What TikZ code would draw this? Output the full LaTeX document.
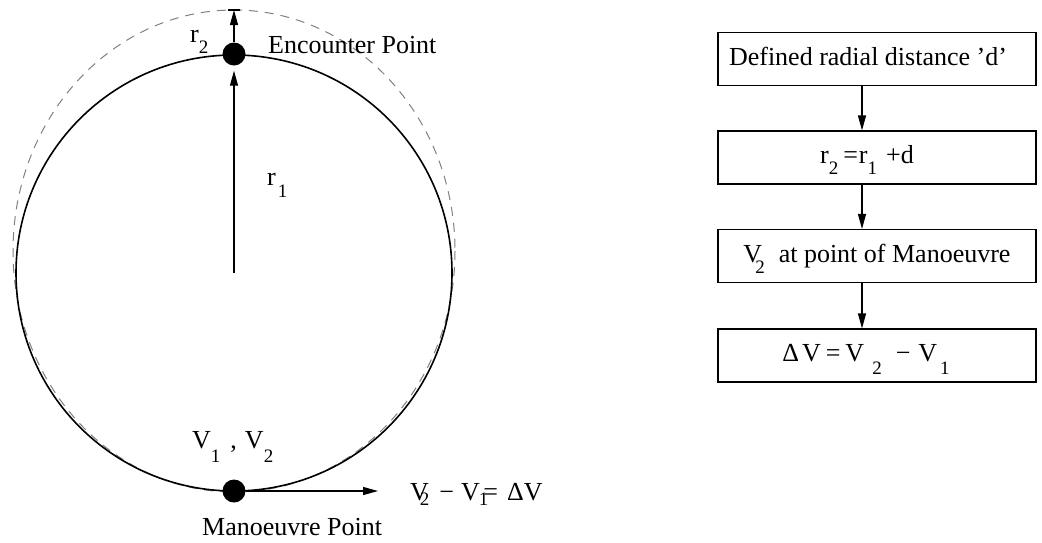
\documentclass[tikz,border=0pt]{standalone}
\usepackage{fontspec}
\setmainfont{Liberation Serif}
\usetikzlibrary{arrows.meta}
\newcommand\lo[2][11pt]{\smash{\raisebox{-#1}{\fontsize{19}{19}\selectfont #2}}}
\begin{document}
\begin{tikzpicture}[x=1pt,y=-1pt,
  txt/.style={font=\fontsize{26}{30}\selectfont, inner sep=0pt},
  box/.style={draw, line width=1.1pt, minimum width=318pt, minimum height=53pt,
    inner sep=0pt, text height=17pt, text depth=5pt, font=\fontsize{26}{30}\selectfont},
  arr/.style={-{Triangle[length=15pt,width=8pt]}, line width=1.2pt},
  dot/.style={circle, fill=black, minimum size=23pt, inner sep=0pt}]
\useasboundingbox (0,0) rectangle (1042,542);

% orbits
\draw[gray, dash pattern=on 9pt off 7pt, line width=1pt] (234,251) ellipse [x radius=221, y radius=241];
\draw[line width=1.6pt] (234,273) circle [radius=218];

\coordinate (C) at (234,273);
\coordinate (T) at (234,10);
\coordinate (A) at (378,491);
\node[dot] (E) at (234,54) {};
\node[dot] (M) at (234,491) {};

\draw[arr] (C) -- ([yshift=-5pt]E.south);
\draw[arr] (E) -- (T);
\draw[line width=1.2pt] ([xshift=-6pt]T) -- ([xshift=6pt]T);
\draw[arr] (M) -- (A);

% labels
\node[txt, anchor=base west] (r2) at (190,42) {r\lo{2}};
\node[txt, anchor=base west] (enc) at (268,53) {Encounter Point};
\node[txt, anchor=base west] (r1) at (267,185) {r\kern2pt\lo[12pt]{1}};
\node[txt, anchor=base west] (v12) at (192,448) {V\lo[14pt]{1}\kern10pt,\kern8pt V\lo[14pt]{2}};
\node[txt, anchor=base west] (man) at (202,535) {Manoeuvre Point};
\node[txt, anchor=base west] (dv) at (410,500) {V\kern-9pt\lo[5pt]{2}\kern10pt−\kern7pt V\kern-1pt\lo[5pt]{1}\kern-5pt=\kern9pt ΔV};

% flow chart
\node[box] (b1) at (877,59) {Defined radial distance ’d’\kern18pt};
\node[box] (b2) at (877,157.5) {r\lo{2}\kern5pt=\kern1pt r\lo{1}\kern9pt+d\kern20pt};
\node[box] (b3) at (877,256) {V\kern-7pt\lo{2}\kern14pt at point of Manoeuvre};
\node[box] (b4) at (877,355.5) {Δ\kern3pt V\kern5pt=\kern5pt V\kern8pt\lo[13pt]{2}\kern14pt−\kern8pt V\kern3pt\lo[13pt]{1}\kern22pt};

\draw[arr] ([xshift=-15pt]b1.south) -- ([xshift=-15pt]b2.north);
\draw[arr] ([xshift=-15pt]b2.south) -- ([xshift=-15pt]b3.north);
\draw[arr] ([xshift=-15pt]b3.south) -- ([xshift=-15pt]b4.north);
\end{tikzpicture}
\end{document}
